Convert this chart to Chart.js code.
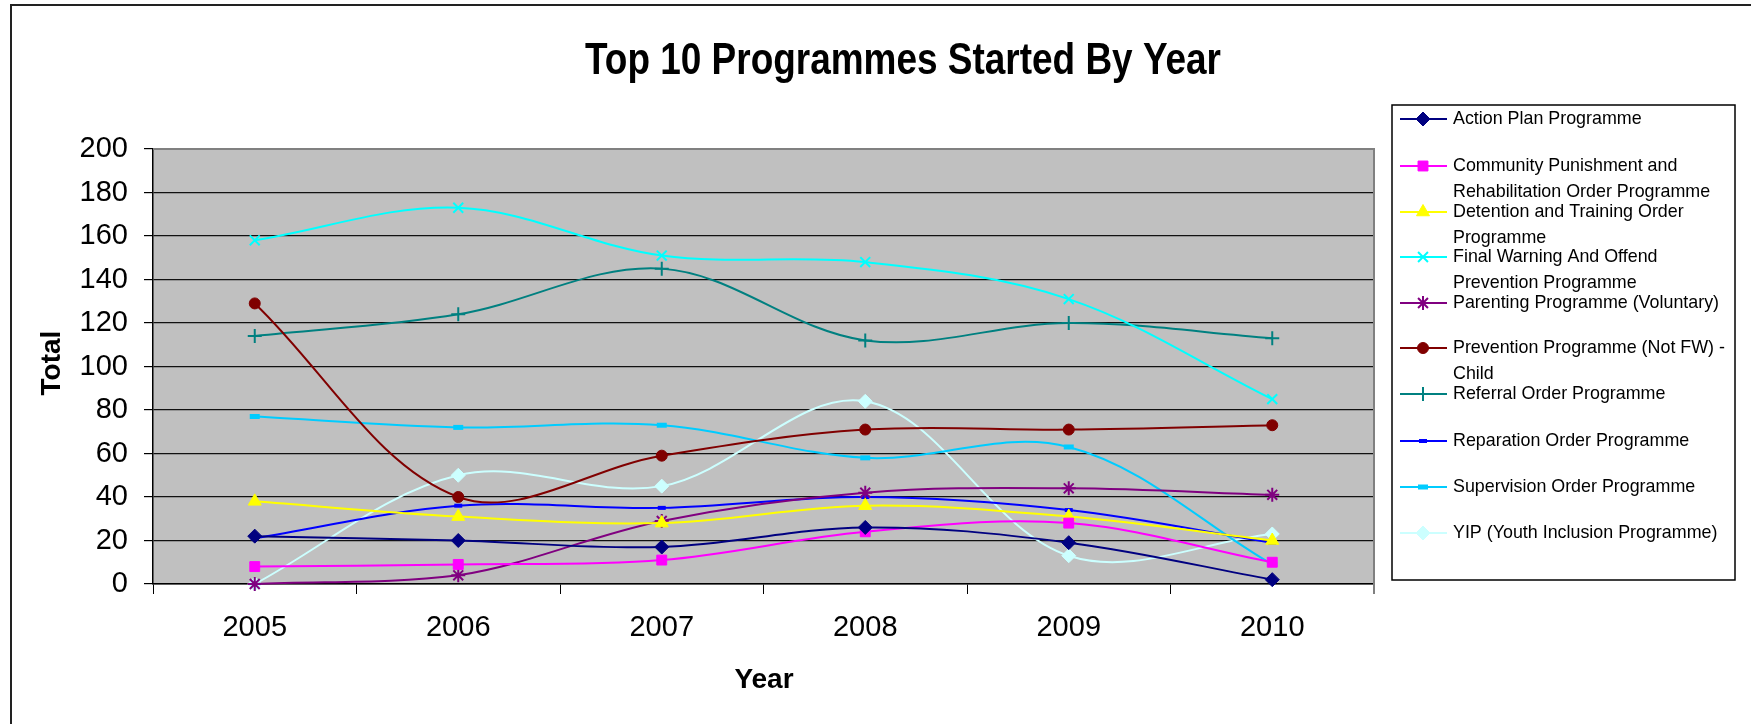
<!DOCTYPE html>
<html>
<head>
<meta charset="utf-8">
<title>Top 10 Programmes Started By Year</title>
<script src="https://cdn.jsdelivr.net/npm/chart.js@4.4.0/dist/chart.umd.min.js"></script>
<style>
  html, body { margin: 0; padding: 0; background: #fff; }
  #wrap { width: 1751px; height: 724px; }
</style>
</head>
<body>
<div id="wrap"><canvas id="chart" width="1751" height="724"></canvas></div>
<script>
// categories and axis
const years = ['2005', '2006', '2007', '2008', '2009', '2010'];
const yMin = 0;
const yMax = 200;
const yStep = 20;

// programme counts per year
const actionPlan = [22, 20, 17, 26, 19, 2];
const communityPunishment = [8, 9, 11, 24, 28, 10];
const detentionTraining = [38, 31, 28, 36, 31, 20];
const finalWarning = [158, 173, 151, 148, 131, 85];
const parenting = [0, 4, 29, 42, 44, 41];
const preventionChild = [129, 40, 59, 71, 71, 73];
const referralOrder = [114, 124, 145, 112, 120, 113];
const reparationOrder = [21, 36, 35, 40, 34, 19];
const supervisionOrder = [77, 72, 73, 58, 63, 9];
const yip = [0, 50, 45, 84, 13, 23];

// legend text, already split into the lines the legend shows
const seriesNames = [
    ['Action Plan Programme'],
    ['Community Punishment and', 'Rehabilitation Order Programme'],
    ['Detention and Training Order', 'Programme'],
    ['Final Warning And Offend', 'Prevention Programme'],
    ['Parenting Programme (Voluntary)'],
    ['Prevention Programme (Not FW) -', 'Child'],
    ['Referral Order Programme'],
    ['Reparation Order Programme'],
    ['Supervision Order Programme'],
    ['YIP (Youth Inclusion Programme)'],
];

const chartTitle = 'Top 10 Programmes Started By Year';
const xTitle = 'Year';
const yTitle = 'Total';

const FONT = '"Liberation Sans", Arial, Helvetica, sans-serif';

function series(idx, data, color, pointStyle, radius, extra) {
    return Object.assign({
        label: seriesNames[idx].join(' '),
        data: data,
        borderColor: color,
        backgroundColor: color,
        borderWidth: 2,
        pointStyle: pointStyle,
        pointRadius: radius,
        pointHoverRadius: radius,
        pointBackgroundColor: color,
        pointBorderColor: color,
        pointBorderWidth: 1,
        tension: 0.35,
        clip: false,
    }, extra || {});
}

const datasets = [
    series(0, actionPlan, '#000080', 'rectRot', 7),
    series(1, communityPunishment, '#FF00FF', 'rect', 7),
    series(2, detentionTraining, '#FFFF00', 'triangle', 7.5),
    series(3, finalWarning, '#00FFFF', 'crossRot', 7, { pointBorderWidth: 2 }),
    series(4, parenting, '#800080', 'star', 7, { pointBorderWidth: 2 }),
    series(5, preventionChild, '#800000', 'circle', 5.5),
    series(6, referralOrder, '#008080', 'cross', 7, { pointBorderWidth: 2 }),
    series(7, reparationOrder, '#0000FF', 'line', 4, { pointBorderWidth: 4 }),
    series(8, supervisionOrder, '#00CCFF', 'line', 5, { pointBorderWidth: 5 }),
    series(9, yip, '#CCFFFF', 'rectRot', 7),
];

// text squeezed horizontally to a given width
function fillFitted(ctx, text, x, y, width, align) {
    const w = ctx.measureText(text).width;
    const sx = width ? width / w : 1;
    ctx.save();
    ctx.translate(x, y);
    ctx.scale(sx, 1);
    ctx.textAlign = align;
    ctx.fillText(text, 0, 0);
    ctx.restore();
}

// grey plot area with its frame
const plotArea = {
    id: 'plotArea',
    beforeDraw(chart) {
        const { ctx, chartArea: a } = chart;
        ctx.save();
        ctx.fillStyle = '#C0C0C0';
        ctx.fillRect(a.left, a.top, a.right - a.left, a.bottom - a.top);
        ctx.restore();
    },
    afterDraw(chart) {
        const { ctx, chartArea: a } = chart;
        ctx.save();
        ctx.strokeStyle = '#808080';
        ctx.lineWidth = 2;
        ctx.beginPath();
        ctx.moveTo(a.left, a.top);
        ctx.lineTo(a.right, a.top);
        ctx.lineTo(a.right, a.bottom + 10);
        ctx.stroke();
        ctx.restore();
    }
};

// outer frame, titles and the boxed legend
const decorations = {
    id: 'decorations',
    afterDraw(chart) {
        const ctx = chart.ctx;
        ctx.save();

        ctx.strokeStyle = '#222';
        ctx.lineWidth = 2;
        ctx.beginPath();
        ctx.moveTo(11, 724);
        ctx.lineTo(11, 5);
        ctx.lineTo(1751, 5);
        ctx.stroke();

        ctx.fillStyle = '#000';
        ctx.textBaseline = 'middle';
        ctx.font = 'bold 45px ' + FONT;
        fillFitted(ctx, chartTitle, 903, 62, 636, 'center');

        ctx.font = 'bold 28px ' + FONT;
        ctx.textAlign = 'center';
        ctx.fillText(xTitle, 764, 680);
        ctx.save();
        ctx.translate(52, 363);
        ctx.rotate(-Math.PI / 2);
        ctx.fillText(yTitle, 0, 0);
        ctx.restore();

        // legend box
        ctx.fillStyle = '#fff';
        ctx.fillRect(1392, 105, 343, 475);
        ctx.strokeStyle = '#000';
        ctx.lineWidth = 1.5;
        ctx.strokeRect(1392, 105, 343, 475);

        const rowY = [119, 166, 212, 257, 303, 348, 394, 441, 487, 533];
        chart.data.datasets.forEach((ds, i) => {
            const y = rowY[i];
            ctx.strokeStyle = ds.borderColor;
            ctx.lineWidth = 2;
            ctx.beginPath();
            ctx.moveTo(1400, y);
            ctx.lineTo(1447, y);
            ctx.stroke();
            ctx.fillStyle = ds.pointBackgroundColor;
            ctx.strokeStyle = ds.pointBorderColor;
            ctx.lineWidth = ds.pointBorderWidth;
            Chart.helpers.drawPoint(ctx, {
                pointStyle: ds.pointStyle,
                radius: ds.pointRadius,
                borderWidth: ds.pointBorderWidth,
                rotation: 0,
            }, 1423, y);

            ctx.fillStyle = '#000';
            ctx.font = '19px ' + FONT;
            seriesNames[i].forEach((line, k) => {
                const w = ctx.measureText(line).width * 0.94;
                fillFitted(ctx, line, 1453, y + k * 26, w, 'left');
            });
        });

        ctx.restore();
    }
};

new Chart(document.getElementById('chart'), {
    type: 'line',
    data: { labels: years, datasets: datasets },
    options: {
        responsive: false,
        animation: false,
        layout: { padding: { top: 149, right: 377, left: 0, bottom: 0 } },
        plugins: {
            legend: { display: false },
            title: { display: false },
            tooltip: { enabled: false },
        },
        scales: {
            x: {
                offset: true,
                grid: {
                    offset: true,
                    drawOnChartArea: false,
                    drawTicks: true,
                    tickLength: 10,
                    color: '#000',
                },
                border: { display: true, color: '#000', width: 1.5 },
                ticks: {
                    color: '#000',
                    font: { family: FONT, size: 29 },
                    padding: 17,
                    maxRotation: 0,
                },
                afterFit(scale) { scale.height = 140; },
            },
            y: {
                min: yMin,
                max: yMax,
                grid: {
                    color: '#111',
                    lineWidth: 1.2,
                    tickLength: 9,
                    tickColor: '#000',
                },
                border: { display: true, color: '#000', width: 1.5 },
                ticks: {
                    stepSize: yStep,
                    color: '#000',
                    font: { family: FONT, size: 29 },
                    padding: 16,
                },
                afterFit(scale) { scale.width = 153; },
            },
        },
    },
    plugins: [plotArea, decorations],
});
</script>
</body>
</html>
